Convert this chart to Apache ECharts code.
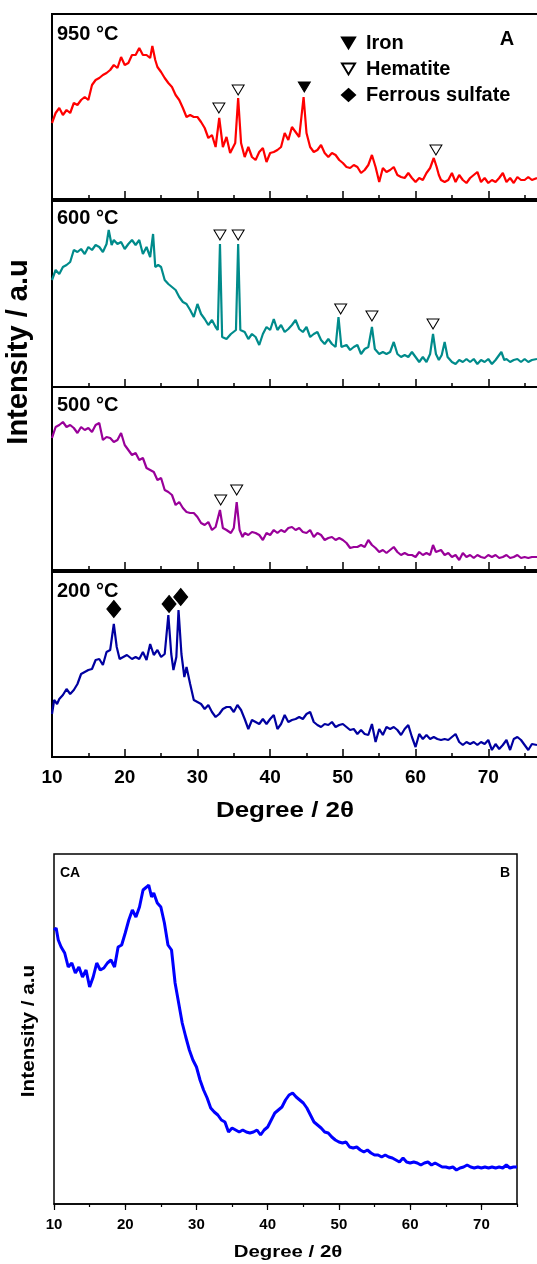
<!DOCTYPE html>
<html>
<head>
<meta charset="utf-8">
<script src="https://cdn.jsdelivr.net/npm/echarts@6/dist/echarts.min.js"></script>
<style>
  html, body { margin: 0; padding: 0; background: #fff; }
  #chart { width: 537px; height: 1264px; }
</style>
</head>
<body>
<div id="chart"></div>
<script>
// XRD patterns, [2theta, intensity a.u.]
const pattern950 = [[10,76],[10.5,86],[11,91],[11.5,84],[12,89],[12.5,86],[13,96],[13.5,94],[14,99],[14.5,102],[15,99],[15.5,114],[16,119],[16.5,121],[17,124],[17.5,126],[18,129],[18.5,134],[19,131],[19.5,142],[20,134],[20.5,136],[21,144],[21.5,144],[22,151],[22.5,144],[23,144],[23.5,141],[23.8,153],[24.2,139],[24.5,132],[25,127],[25.5,121],[26,116],[26.5,112],[27,104],[27.5,99],[28,91],[28.5,82],[29,84],[29.5,82],[30,82],[30.5,77],[31,71],[31.5,61],[32,64],[32.5,52],[33,81],[33.5,52],[34,62],[34.5,46],[35.2,56],[35.6,101],[36,56],[36.5,42],[37,52],[37.5,42],[38,39],[38.5,47],[39,51],[39.5,37],[40,46],[40.5,47],[41,49],[41.5,52],[42,66],[42.5,59],[43,72],[43.5,67],[44,62],[44.6,102],[45,66],[45.5,52],[46,47],[46.5,49],[47,54],[47.5,46],[48,42],[48.5,46],[49,44],[49.5,39],[50,36],[50.5,32],[51,31],[51.5,34],[52,32],[52.5,26],[53,29],[53.5,34],[54,44],[54.5,32],[55,17],[55.5,31],[56,27],[56.5,29],[57,32],[57.5,24],[58,22],[58.5,21],[59,26],[59.5,21],[60,17],[60.5,21],[61,19],[61.5,26],[62,31],[62.5,41],[62.9,32],[63.2,24],[63.5,19],[64,17],[64.5,19],[65,26],[65.5,17],[66,24],[66.5,19],[67,16],[67.5,21],[68,24],[68.5,27],[69,17],[69.5,21],[70,16],[70.5,19],[71,17],[71.5,21],[72,26],[72.5,17],[73,21],[73.5,16],[74,22],[74.5,19],[75,19],[75.5,22],[76,19],[76.7,21]]
const pattern600 = [[10,107],[10.5,117],[11,113],[11.5,120],[12,122],[12.5,125],[13,137],[13.5,135],[14,138],[14.5,133],[15,140],[15.5,137],[16,142],[16.5,140],[17,135],[17.5,143],[17.8,157],[18.2,142],[18.5,147],[19,143],[19.5,145],[20,138],[20.5,143],[21,147],[21.5,142],[22,147],[22.5,133],[23,140],[23.5,130],[23.9,153],[24.2,120],[24.6,122],[25,120],[25.5,107],[26,103],[26.5,100],[27,97],[27.5,90],[28,85],[28.5,83],[29,77],[29.5,70],[30,83],[30.5,73],[31,68],[31.5,62],[32,67],[32.5,60],[32.8,57],[33.1,143],[33.4,50],[34,48],[34.6,53],[35.3,57],[35.6,143],[35.9,57],[36.5,55],[37,48],[37.5,53],[38,50],[38.5,42],[39,53],[39.5,60],[40,57],[40.5,68],[41,57],[41.5,62],[42,55],[42.5,58],[43,62],[43.5,67],[44,58],[44.5,55],[45,60],[45.5,50],[46,53],[46.5,55],[47,47],[47.5,43],[48,48],[48.5,43],[49,40],[49.4,70],[49.8,40],[50.5,42],[51,37],[51.5,40],[52,42],[52.5,33],[53,38],[53.5,40],[54,60],[54.4,38],[55,33],[55.5,35],[56,33],[56.5,35],[57,45],[57.5,33],[58,30],[58.5,32],[59,30],[59.5,35],[60,30],[60.5,25],[61,30],[61.5,25],[62,33],[62.4,53],[62.8,33],[63.2,27],[63.6,32],[64,45],[64.4,30],[65,25],[65.5,23],[66,27],[66.5,25],[67,28],[67.5,25],[68,28],[68.5,23],[69,27],[69.5,25],[70,28],[70.5,23],[71,27],[71.8,35],[72.2,27],[72.5,28],[73,25],[73.5,27],[74,28],[74.5,25],[75,28],[75.5,25],[76,27],[76.7,28]]
const pattern500 = [[10,132],[10.5,143],[11,145],[11.5,148],[12,143],[12.5,145],[13,142],[13.5,137],[14,143],[14.5,140],[15,142],[15.5,138],[16,145],[16.5,147],[17,130],[17.5,133],[18,132],[18.5,128],[19,130],[19.5,137],[20,125],[20.5,120],[21,115],[21.5,117],[22,110],[22.5,112],[23,102],[23.5,100],[24,98],[24.5,90],[25,92],[25.5,80],[26,78],[26.5,75],[27,65],[27.5,68],[28,62],[28.5,58],[29,57],[29.5,57],[30,53],[30.5,47],[31,45],[31.5,48],[32,40],[32.5,43],[33.1,60],[33.5,42],[34,40],[34.6,37],[35,42],[35.4,68],[35.8,40],[36.2,33],[36.5,37],[37,35],[37.5,38],[38,37],[38.5,35],[39,30],[39.5,37],[40,35],[40.5,40],[41,37],[41.5,40],[42,38],[42.5,42],[43,43],[43.5,40],[44,42],[44.5,38],[45,37],[45.5,40],[46,33],[46.5,37],[47,35],[47.5,30],[48,32],[48.5,33],[49,30],[49.5,32],[50,30],[50.5,27],[51,22],[51.5,23],[52,23],[52.5,25],[53,23],[53.5,30],[54,25],[54.5,22],[55,18],[55.5,20],[56,17],[56.5,20],[57,23],[57.5,18],[58,15],[58.5,17],[59,15],[59.5,15],[60,13],[60.5,18],[61,15],[61.5,17],[62,15],[62.4,25],[62.8,18],[63.5,20],[64,15],[64.5,17],[65,13],[65.5,15],[66,10],[66.5,17],[67,13],[67.5,15],[68,12],[68.5,15],[69,13],[69.5,12],[70,15],[70.5,13],[71,15],[71.5,12],[72,13],[72.5,15],[73,12],[73.5,13],[74,15],[74.5,12],[75,13],[75.5,12],[76,13],[76.7,13]]
const pattern200 = [[10,43],[10.3,57],[10.7,53],[11,58],[11.5,62],[12,68],[12.5,63],[13,67],[13.5,73],[14,83],[14.5,85],[15,87],[15.5,88],[16,97],[16.5,98],[17,92],[17.5,105],[18,107],[18.5,133],[18.9,110],[19.3,98],[19.8,100],[20.3,102],[21,98],[21.5,100],[22,98],[22.5,105],[23,97],[23.5,113],[24,102],[24.5,107],[25,100],[25.5,103],[26,142],[26.4,103],[26.7,87],[27.1,100],[27.4,147],[27.8,103],[28.2,80],[28.5,90],[29,73],[29.5,57],[30,55],[30.5,53],[31,48],[31.5,52],[32,45],[32.5,40],[33,43],[33.5,48],[34,50],[34.5,50],[35,45],[35.5,52],[36,47],[36.5,38],[37,28],[37.5,37],[38,35],[38.5,33],[39,38],[39.5,33],[40,38],[40.5,42],[41,28],[41.5,33],[42,42],[42.5,35],[43,37],[43.5,38],[44,40],[44.5,38],[45,43],[45.5,45],[46,35],[46.5,32],[47,30],[47.5,33],[48,32],[48.5,35],[49,30],[49.5,32],[50,33],[50.5,30],[51,27],[51.5,28],[52,23],[52.5,27],[53,23],[53.5,22],[54,33],[54.5,15],[55,28],[55.5,22],[56,30],[56.5,28],[57,30],[57.5,27],[58,22],[58.5,28],[59,32],[59.5,20],[60,10],[60.5,23],[61,18],[61.5,22],[62,18],[62.5,20],[63,18],[63.5,17],[64,18],[64.5,17],[65,20],[65.5,23],[66,15],[66.5,12],[67,15],[67.5,13],[68,15],[68.5,12],[69,15],[69.5,13],[70,17],[70.5,7],[71,13],[71.5,8],[72,12],[72.5,17],[73,7],[73.5,18],[74,20],[74.5,17],[75,12],[75.5,7],[76,13],[76.7,12]]
const patternCA = [[10,274],[10.3,276],[10.6,264],[11,257],[11.5,251],[12,237],[12.5,241],[13,231],[13.5,237],[14,227],[14.5,234],[15,217],[15.5,227],[16,241],[16.5,234],[17,236],[17.5,241],[18,244],[18.5,237],[19,257],[19.5,259],[20,271],[20.5,284],[21,294],[21.5,287],[22,297],[22.5,314],[23,317],[23.3,319],[23.7,307],[24,311],[24.5,301],[25,297],[25.5,281],[26,259],[26.5,254],[27,221],[27.5,201],[28,181],[28.5,167],[29,154],[29.5,144],[30,137],[30.5,124],[31,114],[31.5,106],[32,96],[32.5,92],[33,89],[33.5,84],[34,82],[34.5,72],[35,76],[35.5,74],[36,72],[36.5,74],[37,72],[37.5,71],[38,72],[38.5,74],[39,69],[39.5,74],[40,77],[40.5,84],[41,91],[41.5,94],[42,97],[42.5,104],[43,109],[43.5,111],[44,107],[44.5,104],[45,101],[45.5,96],[46,89],[46.5,82],[47,79],[47.5,76],[48,72],[48.5,71],[49,67],[49.5,64],[50,62],[50.5,61],[51,62],[51.5,57],[52,56],[52.5,57],[53,54],[53.5,52],[54,54],[54.5,51],[55,49],[55.5,49],[56,47],[56.5,49],[57,47],[57.5,46],[58,44],[58.5,42],[59,46],[59.5,42],[60,41],[60.5,42],[61,41],[61.5,39],[62,41],[62.5,42],[63,39],[63.5,41],[64,39],[64.5,37],[65,37],[65.5,36],[66,37],[66.5,34],[67,36],[67.5,37],[68,39],[68.5,37],[69,36],[69.5,37],[70,36],[70.5,37],[71,36],[71.5,37],[72,36],[72.5,37],[73,36],[73.5,39],[74,36],[74.5,37],[75,37]]

// phase markers placed above the peaks
const iron950 = [[44.7, 112]]
const hematite950 = [[32.95, 91], [35.6, 109], [62.8, 49]]
const hematite600 = [[33.1, 152], [35.6, 152], [49.7, 78], [54.0, 71], [62.4, 63]]
const hematite500 = [[33.2, 70], [35.4, 80]]
const sulfate200 = [[18.5, 148], [26.1, 153], [27.7, 160]]

const panelLabels = ['950 °C', '600 °C', '500 °C', '200 °C']
const panelColors = ['#ff0000', '#008b8b', '#990099', '#0000a0']
const panelData = [pattern950, pattern600, pattern500, pattern200]

const FONT = "'Liberation Sans', Arial, sans-serif"
const triDown = 'path://M0,0L12,0L6,10Z'

document.addEventListener('DOMContentLoaded', function () {
  const chart = echarts.init(document.getElementById('chart'))

  // stacked panels of figure A: top and height in px
  const panelsA = [
    { top: 14, height: 185 },
    { top: 201, height: 186 },
    { top: 387, height: 183 },
    { top: 572, height: 185 },
  ]

  const grid = panelsA.map(p => ({
    left: 52, right: -24, top: p.top, height: p.height,
    show: true, borderColor: '#000', borderWidth: 2,
    containLabel: false, outerBoundsMode: 'none',
  }))
  grid.push({
    left: 54, right: 20, top: 854, height: 350,
    show: true, borderColor: '#000', borderWidth: 1.5,
    containLabel: false, outerBoundsMode: 'none',
  })

  const xAxis = panelsA.map((p, i) => ({
    gridIndex: i, type: 'value', min: 10, max: 80, interval: 10,
    position: 'bottom',
    axisLine: { show: true, lineStyle: { color: '#000', width: 2 } },
    axisTick: { show: true, inside: true, length: 8, lineStyle: { color: '#000', width: 1.5 } },
    minorTick: { show: true, splitNumber: 2, length: 4, lineStyle: { color: '#000', width: 1.5 } },
    splitLine: { show: false },
    minorSplitLine: { show: false },
    axisLabel: {
      show: i === 3, margin: 11, color: '#000',
      fontSize: 19, fontWeight: 'bold', fontFamily: FONT,
    },
  }))
  // figure B: minor ticks every 5 (axis index 4)
  xAxis.push({
    gridIndex: 4, type: 'value', min: 10, max: 75, interval: 5, position: 'bottom',
    axisLine: { show: true, lineStyle: { color: '#000', width: 1.5 } },
    axisTick: { show: true, inside: false, length: 3, lineStyle: { color: '#000', width: 1.2 } },
    splitLine: { show: false },
    axisLabel: { show: false },
  })
  // figure B: major ticks and labels every 10 (axis index 5)
  xAxis.push({
    gridIndex: 4, type: 'value', min: 10, max: 75, interval: 10, position: 'bottom',
    axisLine: { show: false },
    axisTick: { show: true, inside: false, length: 6, lineStyle: { color: '#000', width: 1.2 } },
    splitLine: { show: false },
    axisLabel: {
      show: true, showMaxLabel: false, margin: 13, color: '#000',
      fontSize: 15, fontWeight: 'bold', fontFamily: FONT,
    },
  })

  const yAxis = panelsA.map((p, i) => ({
    gridIndex: i, type: 'value', min: 0, max: p.height, show: false,
  }))
  yAxis.push({ gridIndex: 4, type: 'value', min: 0, max: 350, show: false })

  const series = panelData.map((d, i) => ({
    type: 'line', xAxisIndex: i, yAxisIndex: i, data: d,
    symbol: 'none', silent: true,
    lineStyle: { color: panelColors[i], width: 2.2 },
  }))
  series.push({
    type: 'line', xAxisIndex: 4, yAxisIndex: 4, data: patternCA,
    symbol: 'none', silent: true,
    lineStyle: { color: '#0000ff', width: 3 },
  })

  const hollow = { color: '#fff', borderColor: '#000', borderWidth: 1, opacity: 1 }
  const filled = { color: '#000', borderColor: '#000', borderWidth: 1, opacity: 1 }
  series.push(
    { type: 'scatter', name: 'Iron', xAxisIndex: 0, yAxisIndex: 0, data: iron950,
      symbol: triDown, symbolSize: [12, 10], itemStyle: filled, z: 5 },
    { type: 'scatter', name: 'Hematite', xAxisIndex: 0, yAxisIndex: 0, data: hematite950,
      symbol: triDown, symbolSize: [12, 10], itemStyle: hollow, z: 5 },
    { type: 'scatter', name: 'Hematite', xAxisIndex: 1, yAxisIndex: 1, data: hematite600,
      symbol: triDown, symbolSize: [12, 10], itemStyle: hollow, z: 5 },
    { type: 'scatter', name: 'Hematite', xAxisIndex: 2, yAxisIndex: 2, data: hematite500,
      symbol: triDown, symbolSize: [12, 10], itemStyle: hollow, z: 5 },
    { type: 'scatter', name: 'Ferrous sulfate', xAxisIndex: 3, yAxisIndex: 3, data: sulfate200,
      symbol: 'diamond', symbolSize: [14, 17], itemStyle: filled, z: 5 },
  )

  const txt = (x, y, text, size, extra) => Object.assign({
    type: 'text', x: x, y: y, silent: true,
    style: {
      text: text, fill: '#000', font: 'bold ' + size + 'px ' + FONT,
      align: 'left', verticalAlign: 'middle',
    },
  }, extra || {})

  const centered = (x, y, text, size, extra) => {
    const el = txt(x, y, text, size, extra)
    el.style.align = 'center'
    return el
  }

  const graphic = [
    txt(57, 34, panelLabels[0], 20),
    txt(57, 218, panelLabels[1], 20),
    txt(57, 405, panelLabels[2], 20),
    txt(57, 591, panelLabels[3], 20),
    centered(507, 39, 'A', 20),
    centered(285, 811, 'Degree / 2θ', 22, { scaleX: 1.18 }),
    centered(19, 352, 'Intensity / a.u', 29, { rotation: Math.PI / 2 }),
    txt(60, 873, 'CA', 14),
    centered(505, 873, 'B', 14),
    centered(288, 1252, 'Degree / 2θ', 17, { scaleX: 1.2 }),
    centered(29, 1031, 'Intensity / a.u', 18, { rotation: Math.PI / 2, scaleX: 1.15 }),
  ]

  chart.setOption({
    animation: false,
    backgroundColor: '#fff',
    grid: grid,
    xAxis: xAxis,
    yAxis: yAxis,
    legend: {
      data: ['Iron', 'Hematite', 'Ferrous sulfate'],
      orient: 'vertical', left: 336, top: 28,
      itemWidth: 13, itemHeight: 12, itemGap: 6,
      selectedMode: false,
      textStyle: { fontSize: 20, fontWeight: 'bold', fontFamily: FONT, color: '#000', lineHeight: 20, padding: [0, 0, 0, 6] },
    },
    graphic: graphic,
    series: series,
  })

  window.addEventListener('resize', () => chart.resize())
})
</script>
</body>
</html>
